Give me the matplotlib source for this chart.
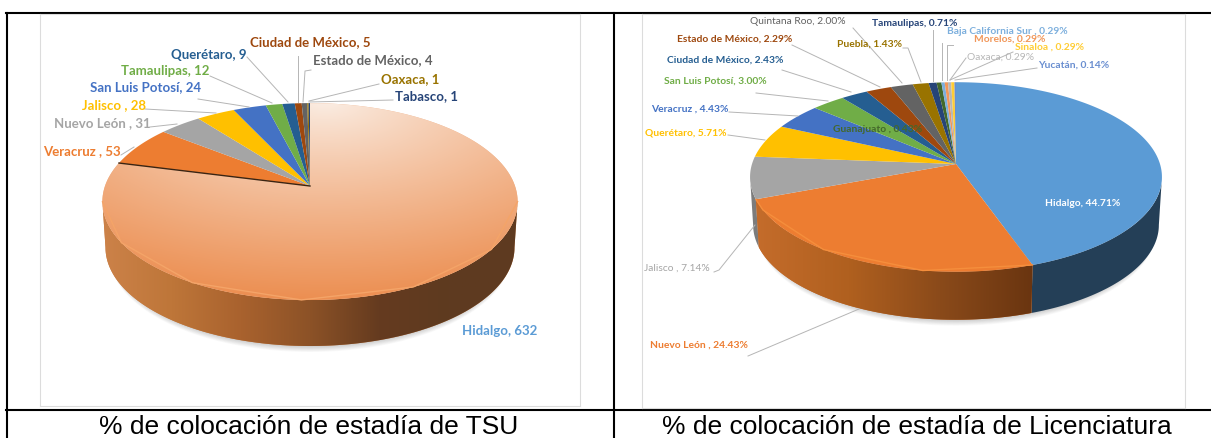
import numpy as np
import matplotlib
matplotlib.use("Agg")
import matplotlib.pyplot as plt
from matplotlib.colors import to_rgb, LinearSegmentedColormap
from matplotlib.patches import Polygon
from matplotlib.path import Path
from matplotlib.transforms import Transform

W, H = 1211, 438

# ---- data ----
tsu_names = ["Hidalgo", "Veracruz ", "Nuevo León ", "Jalisco ", "San Luis Potosí", "Tamaulipas",
             "Querétaro", "Ciudad de México", "Estado de México", "Oaxaca", "Tabasco"]
tsu_values = [632, 53, 31, 28, 24, 12, 9, 5, 4, 1, 1]
tsu_colors = ["#F0B48E", "#ED7D31", "#A5A5A5", "#FFC000", "#4472C4", "#70AD47",
              "#255E91", "#9E480E", "#636363", "#997300", "#264478"]
tsu_label_colors = ["#5B9BD5", "#ED7D31", "#A5A5A5", "#FFC000", "#4472C4", "#70AD47",
                    "#255E91", "#9E480E", "#636363", "#997300", "#264478"]

lic_names = ["Hidalgo", "Nuevo León ", "Jalisco ", "Querétaro", "Veracruz ", "San Luis Potosí",
             "Ciudad de México", "Estado de México", "Quintana Roo", "Puebla", "Tamaulipas",
             "Guanajuato ", "Baja California Sur ", "Morelos", "Oaxaca", "Sinaloa ", "Yucatán"]
lic_values = [44.71, 24.43, 7.14, 5.71, 4.43, 3.00, 2.43, 2.29, 2.00, 1.43, 0.71,
              0.43, 0.29, 0.29, 0.29, 0.29, 0.14]
lic_colors = ["#5B9BD5", "#ED7D31", "#A5A5A5", "#FFC000", "#4472C4", "#70AD47",
              "#255E91", "#9E480E", "#636363", "#997300", "#264478",
              "#43682B", "#7CAFDD", "#F1975A", "#B7B7B7", "#FFCD33", "#698ED0"]
lic_label_colors = ["#FFFFFF"] + lic_colors[1:]

caption_tsu = "% de colocación de estadía de TSU"
caption_lic = "% de colocación de estadía de Licenciatura"

# ---- label layout (pixel x of left edge, pixel y of centre) ----
tsu_label_xy = [(462, 331), (43, 151), (54, 123), (82, 105), (90, 87), (121, 71),
                (171, 55), (250, 42), (313, 60), (381, 79), (395, 96)]
lic_label_xy = [(1045, 204), (650, 345), (644, 268), (645, 133), (651, 109), (664, 81),
                (667, 60), (677, 39), (750, 22), (837, 44), (872, 24),
                (833, 130), (947, 31), (974, 39), (967, 57), (1015, 47), (1038, 65)]
tsu_leaders = [[(121, 155), (134, 147)], [(150, 127), (177, 124)], [(145, 109), (216, 113)],
               [(198, 99), (249, 107)], [(210, 76), (272, 103)], [(247, 57), (288, 102)],
               [(298, 56), (298, 102)], [(311, 70), (305, 71), (303, 102)],
               [(379, 84), (309, 101)], [(393, 100), (309, 102)]]
lic_leaders = [[(748, 356), (859, 309)], [(714, 272), (719, 270), (755, 225)],
               [(728, 135), (765, 140)], [(729, 112), (798, 116)], [(756, 93), (828, 101)],
               [(782, 70), (851, 92)], [(792, 45), (880, 87)], [(853, 28), (902, 83)],
               [(903, 48), (908, 48), (921, 82)], [(933, 30), (933, 81)], [(942, 43), (942, 80)],
               [(953, 45), (947, 45), (947, 80)], [(966, 58), (950, 80)],
               [(1013, 52), (950, 80)], [(1037, 68), (955, 80)]]


class Persp(Transform):
    """Unit pie plane -> pixels, with a mild perspective (far side is smaller)."""
    input_dims = 2
    output_dims = 2
    has_inverse = False
    is_separable = False

    def __init__(self, cx, cy, R, Ry, k):
        super().__init__()
        self.p = (cx, cy, R, Ry, k)

    def transform_non_affine(self, xy):
        cx, cy, R, Ry, k = self.p
        xy = np.asarray(xy, float)
        w = 1 + k * xy[:, 1]
        return np.column_stack([cx + R * xy[:, 0] / w, cy - Ry * xy[:, 1] / w])

    def transform_path_non_affine(self, path):
        pts = []
        ts = np.linspace(0, 1, 40)
        for seg, _code in path.iter_bezier():
            pts.append(seg(ts))
        pts = np.vstack(pts) if pts else path.vertices
        return Path(self.transform_non_affine(pts))


def panel(x0, y0, x1, y1):
    return fig.add_axes([x0 / W, 1 - y1 / H, (x1 - x0) / W, (y1 - y0) / H])


def set_px(ax, x0, y0, x1, y1):
    ax.set_aspect("auto")
    ax.set_xlim(x0, x1)
    ax.set_ylim(y1, y0)
    ax.set_xticks([])
    ax.set_yticks([])
    ax.set_frame_on(True)
    for s in ax.spines.values():
        s.set_color("#dcdcdc")
        s.set_linewidth(0.8)


def draw_pie(ax, box, values, colors, geo, thick, rim_styles):
    T = Persp(*geo)
    full = T + ax.transData
    wedges, _ = ax.pie(values, colors=colors, startangle=90, counterclock=False,
                       wedgeprops={"linewidth": 0})
    set_px(ax, *box)
    for w in wedges:
        w.set_transform(full)
        w.set_zorder(3)

    cx, cy, R, Ry, k = geo
    a_r = np.arccos(-k)
    a_l = 2 * np.pi - a_r
    taper = 0.985

    def proj(a):
        return T.transform_non_affine(np.column_stack([np.sin(a), np.cos(a)]))

    def lower(arc, drop, scale=taper):
        return np.column_stack([cx + (arc[:, 0] - cx) * scale, arc[:, 1] + drop])

    # soft shadow under the wall
    fr = proj(np.linspace(a_r, a_l, 160))
    for i in range(1, 9):
        ax.add_patch(Polygon(lower(fr, thick + i * 0.75, 0.97), closed=True, facecolor="#000000",
                             alpha=0.022, lw=0, zorder=1))

    # side wall, slice by slice
    edges = np.cumsum([0] + list(values)) / np.sum(values) * 2 * np.pi
    for i in range(len(values)):
        a0, a1 = max(edges[i], a_r), min(edges[i + 1], a_l)
        if a1 <= a0:
            continue
        arc = proj(np.linspace(a0, a1, 160))
        low = lower(arc, thick)[::-1]
        st = rim_styles.get(i, ["#777777"])
        poly = Polygon(np.vstack([arc, low]), closed=True, lw=0, zorder=2, facecolor=st[0])
        ax.add_patch(poly)
        if len(st) > 1:
            cmap = LinearSegmentedColormap.from_list("r", st)
            x0, x1 = min(arc[:, 0].min(), low[:, 0].min()), max(arc[:, 0].max(), low[:, 0].max())
            im = ax.imshow(np.linspace(0, 1, 256)[None, :], cmap=cmap, aspect="auto",
                           extent=(x0, x1, arc[:, 1].max() + thick, arc[:, 1].min()), zorder=2.1)
            im.set_clip_path(poly)
    set_px(ax, *box)
    return full, wedges, edges, a_r, a_l


def add_texts(ax, labels, xy, colors, size, regular=()):
    for i, (lab, (x, y), c) in enumerate(zip(labels, xy, colors)):
        ax.text(x, y, lab, color=c, fontsize=size, ha="left", va="center", family="Lato",
                fontweight="normal" if i in regular else "bold", zorder=6, clip_on=False)


def add_leaders(ax, leaders):
    for seg in leaders:
        ax.plot([p[0] for p in seg], [p[1] for p in seg], color="#b5b5b5", lw=0.7, zorder=5)


fig = plt.figure(figsize=(W / 100, H / 100), dpi=100, facecolor="white")

# table rules and captions
bg = fig.add_axes([0, 0, 1, 1])
bg.set_xlim(0, W)
bg.set_ylim(H, 0)
bg.axis("off")
bg.plot([6, W], [13, 13], color="black", lw=1.5)
bg.plot([6, W], [410, 410], color="black", lw=1.5)
bg.plot([7, 7], [13, H], color="black", lw=1.5)
bg.plot([614, 614], [13, H], color="black", lw=1.5)
bg.text(309, 427, caption_tsu, family="Liberation Sans", fontsize=19, ha="center", va="center", color="black")
bg.text(917, 427, caption_lic, family="Liberation Sans", fontsize=19, ha="center", va="center", color="black")

# ---- left chart ----
box_l = (40, 14, 580, 406)
axL = panel(*box_l)
fullL, wedL, edgL, arL, alL = draw_pie(
    axL, box_l, tsu_values, tsu_colors, (310, 186, 205, 96, 0.158), 46,
    {0: ["#CC8249", "#BE7639", "#A9622E", "#8C5227", "#653B1F", "#5E3A20", "#5F3B20"]})
# light-to-orange sheen on the big slice
xs = np.linspace(100, 525, 220)
ys = np.linspace(95, 305, 140)
gx, gy = np.meshgrid(xs, ys)
s = np.clip(np.hypot((gx - 325) / 420, (gy - 100) / 200), 0, 1)
c0, c1 = np.array(to_rgb("#FBEFE6")), np.array(to_rgb("#EC8F52"))
img = c0[None, None, :] + (c1 - c0)[None, None, :] * (s ** 0.85)[:, :, None]
imL = axL.imshow(img, extent=(100, 525, 305, 95), aspect="auto", zorder=3.1)
imL.set_clip_path(wedL[0])
set_px(axL, *box_l)
a = np.linspace(arL, alL, 200)
axL.plot(np.sin(a), np.cos(a), transform=fullL, color="#F4A468", lw=1.0, zorder=3.3)
axL.plot([0, np.sin(edgL[1])], [0, np.cos(edgL[1])], transform=fullL, color="#3a2412", lw=1.0, zorder=3.4)
add_leaders(axL, tsu_leaders)
add_texts(axL, [f"{n}, {v}" for n, v in zip(tsu_names, tsu_values)], tsu_label_xy, tsu_label_colors, 9.5)

# ---- right chart ----
box_r = (642, 14, 1185, 408)
axR = panel(*box_r)
fullR, wedR, edgR, arR, alR = draw_pie(
    axR, box_r, lic_values, lic_colors, (956, 164, 204, 93, 0.137), 48,
    {0: ["#243F57"], 1: ["#C46C2B", "#B0601F", "#8A4A1A", "#6A3510"], 2: ["#7C7C7C"]})
a = np.linspace(edgR[1], edgR[2], 150)
axR.plot(np.sin(a), np.cos(a), transform=fullR, color="#F58E3C", lw=1.0, zorder=3.3)
add_leaders(axR, lic_leaders)
add_texts(axR, [f"{n}, {v:.2f}%" for n, v in zip(lic_names, lic_values)], lic_label_xy, lic_label_colors, 7.35,
          regular={8, 14, 2})

fig.savefig("out.png", dpi=100)
